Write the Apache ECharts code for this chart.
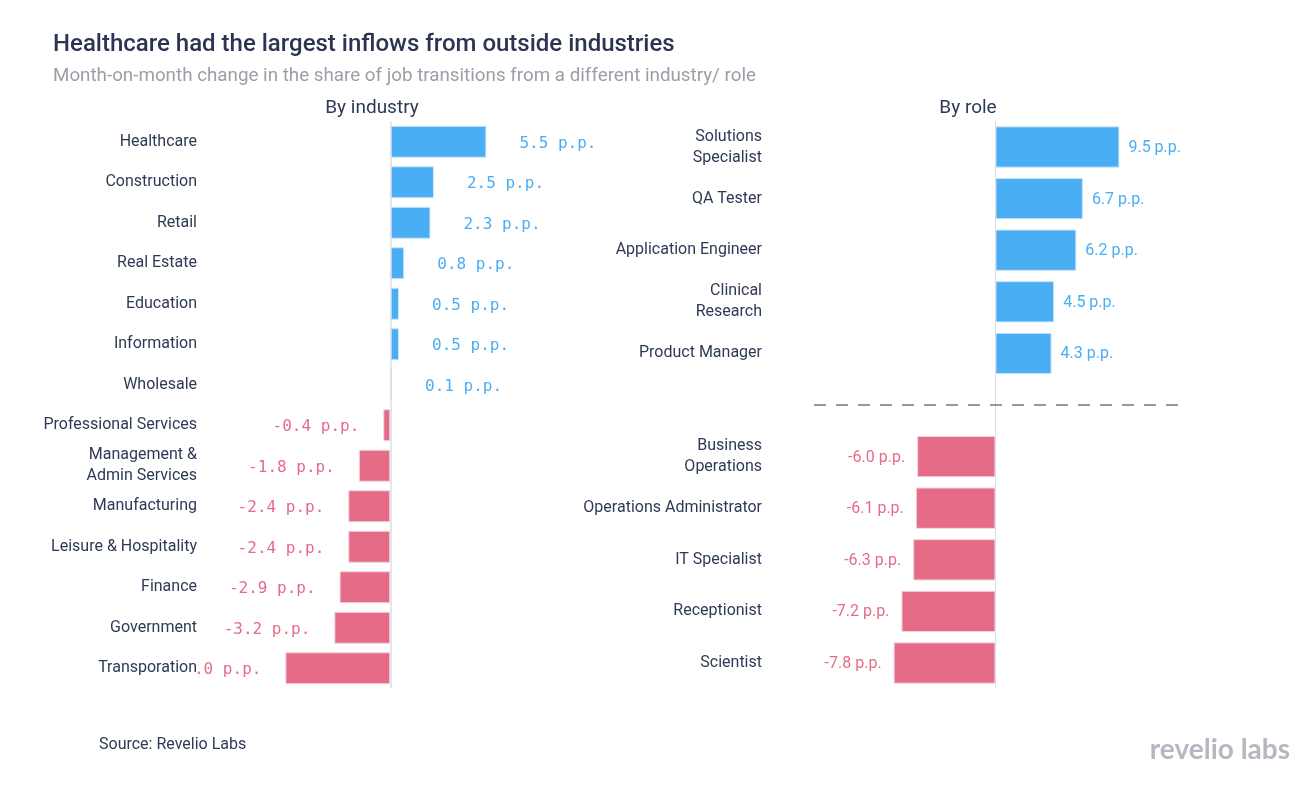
<!DOCTYPE html>
<html>
<head>
<meta charset="utf-8">
<script src="https://cdn.jsdelivr.net/npm/echarts@6/dist/echarts.min.js"></script>
<style>
html,body{margin:0;padding:0;background:#fff;}
#chart{width:1303px;height:789px;}
</style>
</head>
<body>
<div id="chart"></div>
<script>
// ---- data ----
const industryCategories = ['Healthcare','Construction','Retail','Real Estate','Education','Information','Wholesale','Professional Services','Management &\nAdmin Services','Manufacturing','Leisure & Hospitality','Finance','Government','Transporation'];
const industryValues = [5.5, 2.5, 2.3, 0.8, 0.5, 0.5, 0.1, -0.4, -1.8, -2.4, -2.4, -2.9, -3.2, -6.0];
const roleCategories = ['Solutions\nSpecialist','QA Tester','Application Engineer','Clinical\nResearch','Product Manager',' ','Business\nOperations','Operations Administrator','IT Specialist','Receptionist','Scientist'];
const roleValues = [9.5, 6.7, 6.2, 4.5, 4.3, null, -6.0, -6.1, -6.3, -7.2, -7.8];

const BLUE = '#4aaef4';
const PINK = '#e66b87';
const TEXT = '#2e3a55';

function fmt(v){ return v.toFixed(1) + ' p.p.'; }

const industryData = industryValues.map(v => ({
  value: v,
  itemStyle: { color: v >= 0 ? BLUE : PINK, borderColor: v >= 0 ? '#cfe5fa' : '#eed6e2', borderWidth: 1 },
  label: {
    show: true,
    position: v >= 0 ? 'right' : 'left',
    distance: v >= 0 ? 33 : 24,
    offset: [0, 2],
    formatter: () => fmt(v),
    color: v >= 0 ? BLUE : PINK,
    fontFamily: 'DejaVu Sans Mono',
    fontSize: 16
  }
}));

const roleData = roleValues.map(v => v === null ? null : ({
  value: v,
  itemStyle: { color: v >= 0 ? BLUE : PINK, borderColor: v >= 0 ? '#cfe5fa' : '#eed6e2', borderWidth: 1 },
  label: {
    show: true,
    position: v >= 0 ? 'right' : 'left',
    distance: v >= 0 ? 9 : 12,
    offset: [0, 1],
    formatter: () => fmt(v),
    color: v >= 0 ? BLUE : PINK,
    fontFamily: 'Roboto',
    fontSize: 16
  }
}));

const chart = echarts.init(document.getElementById('chart'), null, {renderer: 'canvas'});

const option = {
  animation: false,
  backgroundColor: '#fff',
  textStyle: { fontFamily: 'Roboto' },
  grid: [
    { left: 205, top: 121.5, width: 395, height: 567, containLabel: false },
    { left: 814, top: 121.2, width: 372, height: 567.6, containLabel: false }
  ],
  xAxis: [
    { type: 'value', gridIndex: 0, min: -10.6, max: 12, show: false },
    { type: 'value', gridIndex: 1, min: -13.9, max: 14.6, show: false }
  ],
  yAxis: [
    {
      type: 'category', gridIndex: 0, data: industryCategories, inverse: true, z: 5,
      axisLine: { show: false }, axisTick: { show: false }, splitLine: { show: false },
      axisLabel: { color: TEXT, fontSize: 16, lineHeight: 21, margin: 8, fontFamily: 'Roboto', backgroundColor: '#fff', padding: [4, 0, 0, 0] }
    },
    {
      type: 'category', gridIndex: 1, data: roleCategories, inverse: true,
      axisLine: { show: false }, axisTick: { show: false }, splitLine: { show: false },
      axisLabel: { color: TEXT, fontSize: 16, lineHeight: 21, margin: 52, fontFamily: 'Roboto', padding: [4, 0, 0, 0] }
    }
  ],
  series: [
    {
      type: 'bar', xAxisIndex: 0, yAxisIndex: 0, data: industryData,
      barCategoryGap: '21%',
      markLine: {
        silent: true, symbol: 'none', label: { show: false },
        lineStyle: { color: '#dcdde8', width: 1.5, type: 'solid' },
        data: [{ xAxis: 0 }]
      },
      z: 2
    },
    {
      type: 'bar', xAxisIndex: 1, yAxisIndex: 1, data: roleData,
      barCategoryGap: '20%',
      markLine: {
        silent: true, symbol: 'none', label: { show: false },
        data: [
          { xAxis: 0, lineStyle: { color: '#dcdde8', width: 1, type: 'solid' } },
          { yAxis: ' ', lineStyle: { color: '#777', width: 1.5, type: [12, 10] } }
        ]
      },
      z: 2
    }
  ],
  graphic: [
    { type: 'text', x: 53, y: 45, style: { text: 'Healthcare had the largest inflows from outside industries', fontSize: 24, fontWeight: 500, fill: '#2b3552', fontFamily: 'Roboto', textVerticalAlign: 'middle' } },
    { type: 'text', x: 53, y: 76, style: { text: 'Month-on-month change in the share of job transitions from a different industry/ role', fontSize: 18.8, fill: '#9a9ea7', fontFamily: 'Roboto', textVerticalAlign: 'middle' } },
    { type: 'text', x: 372, y: 108, style: { text: 'By industry', fontSize: 19, fill: TEXT, fontFamily: 'Roboto', textAlign: 'center', textVerticalAlign: 'middle' } },
    { type: 'text', x: 968, y: 108, style: { text: 'By role', fontSize: 19, fill: TEXT, fontFamily: 'Roboto', textAlign: 'center', textVerticalAlign: 'middle' } },
    { type: 'text', x: 99, y: 745, style: { text: 'Source: Revelio Labs', fontSize: 16, fill: TEXT, fontFamily: 'Roboto', textAlign: 'left', textVerticalAlign: 'middle' } },
    { type: 'text', x: 1290, y: 750, style: { text: 'revelio labs', fontSize: 28, fontWeight: 'bold', fill: '#b5b8c0', fontFamily: 'Lato', textAlign: 'right', textVerticalAlign: 'middle' } }
  ]
};
chart.setOption(option);
</script>
</body>
</html>
